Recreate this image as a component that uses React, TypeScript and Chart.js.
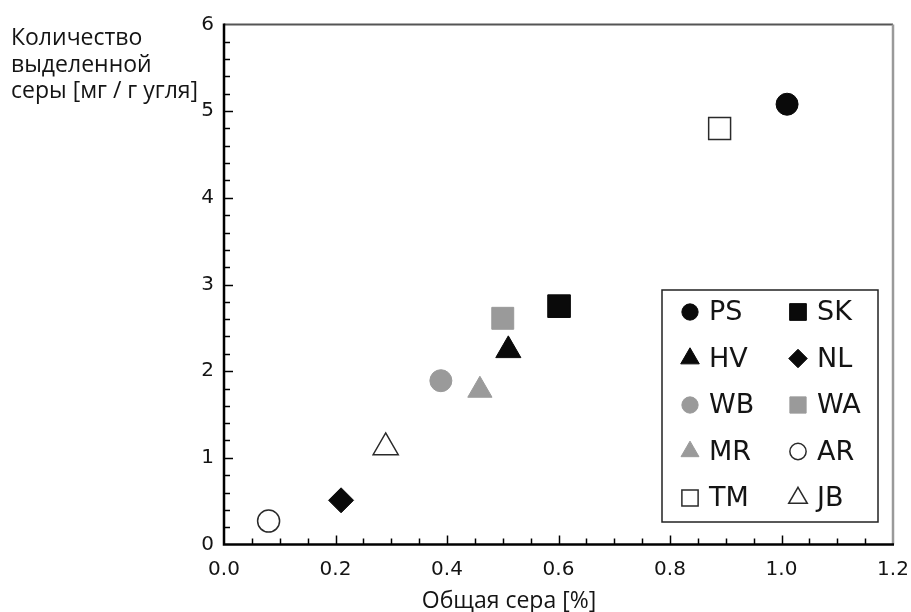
import React, { useEffect, useRef } from 'react';
import { Chart, registerables } from 'chart.js';
import { drawPoint } from 'chart.js/helpers';

Chart.register(...registerables);

// ---- data ----
const sampleNames = ['PS', 'SK', 'HV', 'NL', 'WB', 'WA', 'MR', 'AR', 'TM', 'JB'];
const totalSulfur = [1.01, 0.601, 0.51, 0.21, 0.389, 0.5, 0.459, 0.08, 0.889, 0.29];
const releasedSulfur = [5.08, 2.75, 2.24, 0.51, 1.89, 2.61, 1.78, 0.27, 4.8, 1.12];
const xAxisMin = 0;
const xAxisMax = 1.2;
const xMajorStep = 0.2;
const xMinorStep = 0.05;
const yAxisMin = 0;
const yAxisMax = 6;
const yMajorStep = 1;
const yMinorStep = 0.2;
const yAxisTitleLines = ['Количество', 'выделенной', 'серы [мг / г угля]'];
const xAxisTitle = 'Общая сера [%]';

// ---- styles ----
const BLACK = '#0a0a0a';
const GRAY = '#9a9a9a';
const WHITE = '#ffffff';
const OUTLINE = '#2a2a2a';
type Marker = { shape: string; fill: string; stroke: string; r: number; bw: number };
const markerStyles: Marker[] = [
  { shape: 'circle', fill: BLACK, stroke: BLACK, r: 11, bw: 1 },
  { shape: 'rect', fill: BLACK, stroke: BLACK, r: 16, bw: 1 },
  { shape: 'triangle', fill: BLACK, stroke: BLACK, r: 14.5, bw: 1 },
  { shape: 'rectRot', fill: BLACK, stroke: BLACK, r: 12.5, bw: 1 },
  { shape: 'circle', fill: GRAY, stroke: GRAY, r: 11, bw: 1 },
  { shape: 'rect', fill: GRAY, stroke: GRAY, r: 15.5, bw: 1 },
  { shape: 'triangle', fill: GRAY, stroke: GRAY, r: 14, bw: 1 },
  { shape: 'circle', fill: WHITE, stroke: OUTLINE, r: 11, bw: 1.5 },
  { shape: 'rect', fill: WHITE, stroke: OUTLINE, r: 15.5, bw: 1.5 },
  { shape: 'triangle', fill: WHITE, stroke: OUTLINE, r: 14.5, bw: 1.5 },
];
const TEXT = '#141414';
const TICK_FONT = 'DejaVu Sans';
const TITLE_FONT = 'Open Sans';

const framePlugin = {
  id: 'frameTicks',
  beforeDatasetsDraw(chart: any) {
    const { ctx, chartArea: a, scales } = chart;
    const xs = scales.x, ys = scales.y;
    ctx.save();
    ctx.lineWidth = 2;
    ctx.strokeStyle = '#555555';
    ctx.beginPath();
    ctx.moveTo(a.left, a.top);
    ctx.lineTo(a.right, a.top);
    ctx.stroke();
    ctx.strokeStyle = '#9a9a9a';
    ctx.lineWidth = 2.5;
    ctx.beginPath();
    ctx.moveTo(a.right, a.top);
    ctx.lineTo(a.right, a.bottom);
    ctx.stroke();
    ctx.strokeStyle = '#000';
    ctx.lineWidth = 1.5;
    const nx = Math.round((xAxisMax - xAxisMin) / xMinorStep);
    for (let i = 1; i < nx; i++) {
      const v = xAxisMin + i * xMinorStep;
      const px = Math.round(xs.getPixelForValue(v)) + 0.5;
      const major = i % Math.round(xMajorStep / xMinorStep) === 0;
      const len = major ? 9 : 6;
      ctx.beginPath();
      ctx.moveTo(px, a.bottom);
      ctx.lineTo(px, a.bottom - len);
      ctx.stroke();
    }
    const ny = Math.round((yAxisMax - yAxisMin) / yMinorStep);
    for (let i = 1; i < ny; i++) {
      const v = yAxisMin + i * yMinorStep;
      const py = Math.round(ys.getPixelForValue(v)) + 0.5;
      const major = i % Math.round(yMajorStep / yMinorStep) === 0;
      const len = major ? 9 : 6;
      ctx.beginPath();
      ctx.moveTo(a.left, py);
      ctx.lineTo(a.left + len, py);
      ctx.stroke();
    }
    ctx.lineWidth = 2.5;
    ctx.strokeStyle = '#000';
    ctx.beginPath();
    ctx.moveTo(a.left, a.top - 1);
    ctx.lineTo(a.left, a.bottom);
    ctx.lineTo(a.right + 1, a.bottom);
    ctx.stroke();
    ctx.restore();
  },
  afterDraw(chart: any) {
    const { ctx, chartArea: a } = chart;
    ctx.save();
    ctx.fillStyle = TEXT;
    ctx.font = `23px "${TITLE_FONT}"`;
    ctx.textAlign = 'left';
    ctx.textBaseline = 'alphabetic';
    yAxisTitleLines.forEach((line, i) => {
      ctx.fillText(line, 11, 45 + i * 26.5);
    });
    ctx.textAlign = 'center';
    ctx.fillText(xAxisTitle, 509, 608);

    const boxW = 216, boxH = 232;
    const bx = a.right - 15 - boxW;
    const by = a.bottom - 22.5 - boxH;
    ctx.fillStyle = '#fff';
    ctx.fillRect(bx, by, boxW, boxH);
    ctx.strokeStyle = '#222';
    ctx.lineWidth = 1.5;
    ctx.strokeRect(bx, by, boxW, boxH);
    const colMarkerX = [bx + 28, bx + 136];
    const colTextX = [bx + 47, bx + 155];
    const rowY0 = 22, rowGap = 46.5;
    ctx.font = `27px "${TICK_FONT}"`;
    ctx.textAlign = 'left';
    ctx.textBaseline = 'middle';
    sampleNames.forEach((name, i) => {
      const col = i % 2, row = Math.floor(i / 2);
      const m = markerStyles[i];
      const cy = by + rowY0 + row * rowGap;
      ctx.fillStyle = m.fill;
      ctx.strokeStyle = m.stroke;
      ctx.lineWidth = m.bw;
      drawPoint(ctx, { pointStyle: m.shape, radius: m.r * 0.74, borderWidth: m.bw, rotation: 0 } as any, colMarkerX[col], cy);
      ctx.fillStyle = TEXT;
      ctx.fillText(name, colTextX[col], cy + 1);
    });
    ctx.restore();
  },
};

export default function App() {
  const ref = useRef<HTMLCanvasElement | null>(null);
  useEffect(() => {
    if (!ref.current) return;
    const datasets = sampleNames.map((name, i) => ({
      label: name,
      data: [{ x: totalSulfur[i], y: releasedSulfur[i] }],
      pointStyle: markerStyles[i].shape,
      pointRadius: markerStyles[i].r,
      pointBackgroundColor: markerStyles[i].fill,
      pointBorderColor: markerStyles[i].stroke,
      pointBorderWidth: markerStyles[i].bw,
      showLine: false,
    }));
    const chart = new Chart(ref.current, {
      type: 'scatter',
      data: { datasets },
      options: {
        animation: false,
        responsive: false,
        devicePixelRatio: 1,
        layout: { padding: { left: 0, right: 18, top: 24.5, bottom: 0 } },
        plugins: { legend: { display: false }, tooltip: { enabled: false } },
        scales: {
          x: {
            type: 'linear',
            min: xAxisMin,
            max: xAxisMax,
            grid: { display: false, drawTicks: false },
            border: { display: false },
            ticks: {
              stepSize: xMajorStep,
              callback: (v: any) => Number(v).toFixed(1),
              font: { family: TICK_FONT, size: 20 },
              color: TEXT,
              padding: 13,
              maxRotation: 0,
            },
            afterFit: (s: any) => { s.height = 67.5; s.paddingLeft = 0; s.paddingRight = 0; },
          },
          y: {
            type: 'linear',
            min: yAxisMin,
            max: yAxisMax,
            grid: { display: false, drawTicks: false },
            border: { display: false },
            ticks: {
              stepSize: yMajorStep,
              callback: (v: any) => String(Math.round(Number(v))),
              font: { family: TICK_FONT, size: 20 },
              color: TEXT,
              padding: 10,
            },
            afterFit: (s: any) => { s.width = 224; s.paddingTop = 0; s.paddingBottom = 0; },
          },
        },
      } as any,
      plugins: [framePlugin],
    });
    return () => chart.destroy();
  }, []);
  return (
    <div style={{ position: 'fixed', left: 0, top: 0, width: 911, height: 612, background: '#fff' }}>
      <canvas ref={ref} width={911} height={612} style={{ width: 911, height: 612, display: 'block' }} />
    </div>
  );
}
